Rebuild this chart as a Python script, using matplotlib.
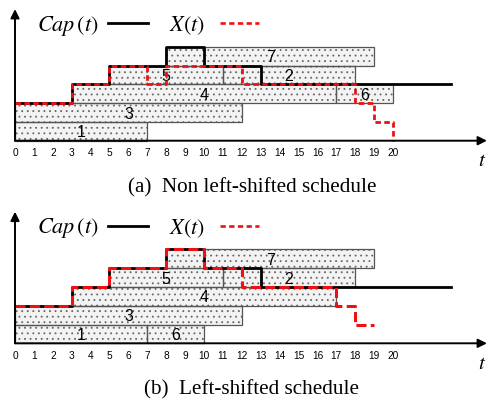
import matplotlib
matplotlib.use('Agg')
import matplotlib.pyplot as plt
from matplotlib.patches import Rectangle

plt.rcParams['hatch.linewidth'] = 0.6
plt.rcParams['mathtext.fontset'] = 'stix'

# jobs: (label, start, end, row)
jobs_a = [('1', 0, 7, 0), ('3', 0, 12, 1), ('4', 3, 17, 2), ('6', 17, 20, 2),
          ('5', 5, 11, 3), ('2', 11, 18, 3), ('7', 8, 19, 4)]
jobs_b = [('1', 0, 7, 0), ('6', 7, 10, 0), ('3', 0, 12, 1), ('4', 3, 17, 2),
          ('5', 5, 11, 3), ('2', 11, 18, 3), ('7', 8, 19, 4)]

# capacity Cap(t), same in both
cap_t = [0, 3, 5, 8, 10, 13, 23.07]
cap_v = [2, 3, 4, 5, 4, 3, 3]

# X(t) load
xa_t = [0, 3, 5, 7, 8, 12, 18, 19, 20]
xa_v = [2, 3, 4, 3, 4, 3, 2, 1, 0]
xb_t = [0, 3, 5, 8, 10, 12, 17, 18, 19]
xb_v = [2, 3, 4, 5, 4, 3, 2, 1, 1]

ticks = list(range(0, 21))

W, H = 489, 402
fig = plt.figure(figsize=(W / 100, H / 100), dpi=100)

px_per_t = 18.9
row_h = 18.8


def make_axes(y_axis_px, top_px, bot_px):
    ax = fig.add_axes([0, 1 - bot_px / H, 1, (bot_px - top_px) / H])
    ax.set_xlim((0 - 15) / px_per_t, (W - 15) / px_per_t)
    ax.set_ylim((y_axis_px - bot_px) / row_h, (y_axis_px - top_px) / row_h)
    ax.axis('off')
    return ax


def draw(ax, jobs, xt, xv, dashes):
    for lab, s, e, r in jobs:
        ax.add_patch(Rectangle((s, r), e - s, 1, facecolor='#f3f3f3', edgecolor='#666666',
                               hatch='...', lw=0, zorder=1))
        ax.add_patch(Rectangle((s, r), e - s, 1, fill=False, edgecolor='#555555',
                               lw=0.9, zorder=2))
        ax.text((s + e) / 2, r + 0.47, lab, ha='center', va='center', fontsize=11.5,
                family='Liberation Sans', zorder=3)
    ax.step(cap_t, cap_v, where='post', color='black', lw=2.0, zorder=4)
    ax.step(xt, xv, where='post', color='#ee1111', lw=dashes[0], zorder=5,
            linestyle=(0, dashes[1:]))
    # axes arrows
    ax.annotate('', xy=(24.97, 0), xytext=(0, 0),
                arrowprops=dict(arrowstyle='-|>', lw=1.4, color='black', mutation_scale=13,
                                shrinkA=0, shrinkB=0), zorder=6)
    ax.annotate('', xy=(0, 7.0), xytext=(0, 0),
                arrowprops=dict(arrowstyle='-|>', lw=1.4, color='black', mutation_scale=13,
                                shrinkA=0, shrinkB=0), zorder=6)
    for t in ticks:
        ax.text(t, -0.62, str(t), ha='center', va='center', fontsize=7.3,
                family='Liberation Sans')
    ax.text(24.7, -0.97, r'$t$', ha='center', va='center', fontsize=15)
    # legend
    ax.text(1.15, 6.17, r'$Cap\,(t)$', ha='left', va='center', fontsize=16)
    ax.plot([4.92, 7.04], [6.24, 6.24], color='black', lw=2.0)
    ax.text(8.15, 6.17, r'$X(t)$', ha='left', va='center', fontsize=16)
    ax.plot([10.85, 12.9], [6.24, 6.24], color='#ee1111', lw=1.9, linestyle=(0, (2, 1.3)))


ax1 = make_axes(141.7, 0, 170)
draw(ax1, jobs_a, xa_t, xa_v, (2.0, 2.0, 1.2))
ax2 = make_axes(344.3, 200, 372)
draw(ax2, jobs_b, xb_t, xb_v, (2.2, 3.3, 1.4))

fig.text(252 / W, 1 - 188 / H, '(a)  Non left-shifted schedule', ha='center', va='center',
         fontsize=15.2, family='Liberation Serif')
fig.text(252 / W, 1 - 390 / H, '(b)  Left-shifted schedule', ha='center', va='center',
         fontsize=15.2, family='Liberation Serif')

fig.savefig('out.png', dpi=100)
